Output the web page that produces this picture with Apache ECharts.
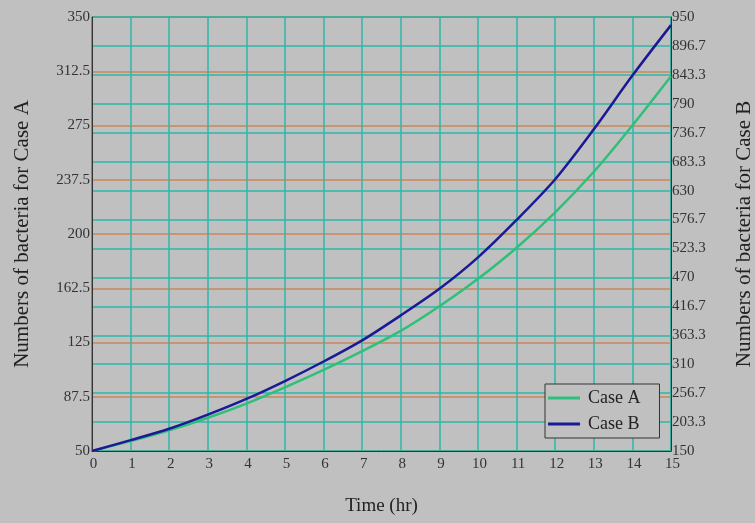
<!DOCTYPE html>
<html>
<head>
<meta charset="utf-8">
<script src="https://cdn.jsdelivr.net/npm/echarts@6/dist/echarts.min.js"></script>
<style>
html,body{margin:0;padding:0;background:#c0c0c0;}
#c{width:755px;height:523px;}
</style>
</head>
<body>
<div id="c"></div>
<script>
// Time (hr)
var hours = [0,1,2,3,4,5,6,7,8,9,10,11,12,13,14,15];
// Case A (left axis)
var caseA = [50, 56.8, 64.3, 73, 82.8, 94, 106, 119, 133, 150, 169, 190.5, 215, 243, 275, 309];
// Case B (right axis)
var caseB = [150, 170, 191, 217, 246, 279, 315, 354, 400, 449, 507, 576, 651, 743, 842, 935];
var leftTicks = [50, 87.5, 125, 162.5, 200, 237.5, 275, 312.5, 350];
var rightTicks = [150, 203.3, 256.7, 310, 363.3, 416.7, 470, 523.3, 576.7, 630, 683.3, 736.7, 790, 843.3, 896.7, 950];

var serif = "'Liberation Serif','DejaVu Serif',serif";
var teal = '#2bb8a8';
var orange = '#c9875a';

function pairs(xs, ys){ return xs.map(function(x,i){ return [x, ys[i]]; }); }

var chart = echarts.init(document.getElementById('c'));
chart.setOption({
  backgroundColor: '#c0c0c0',
  animation: false,
  grid: {left: 92, right: 84, top: 17, bottom: 72, show: true, borderColor: '#333', borderWidth: 1,
         backgroundColor: 'transparent', containLabel: false, outerBoundsMode: 'none'},
  legend: {
    left: 545, top: 384, orient: 'vertical',
    icon: 'rect', itemWidth: 32, itemHeight: 3, itemGap: 8,
    padding: [5, 19, 5, 3],
    borderColor: '#333', borderWidth: 1, borderRadius: 0,
    backgroundColor: '#c0c0c0',
    textStyle: {fontFamily: serif, fontSize: 18, color: '#222', padding: [0, 0, 0, 3]},
    data: ['Case A', 'Case B']
  },
  xAxis: {
    type: 'value', min: 0, max: 15, interval: 1,
    name: 'Time (hr)', nameLocation: 'middle', nameGap: 46,
    nameTextStyle: {fontFamily: serif, fontSize: 19, color: '#222'},
    axisLine: {show: true, lineStyle: {color: '#333', width: 1}},
    axisTick: {show: false},
    axisLabel: {fontFamily: serif, fontSize: 15, color: '#333', margin: 6, padding: [0,0,0,3]},
    splitLine: {show: true, lineStyle: {color: teal, width: 1.5}}
  },
  yAxis: [{
    type: 'value', position: 'left', min: leftTicks[0], max: leftTicks[leftTicks.length-1],
    interval: leftTicks[1]-leftTicks[0],
    name: 'Numbers of bacteria for Case A', nameLocation: 'middle', nameGap: 59,
    nameTextStyle: {fontFamily: serif, fontSize: 21, color: '#222'},
    axisLine: {show: true, lineStyle: {color: '#333', width: 1}},
    axisTick: {show: false},
    axisLabel: {fontFamily: serif, fontSize: 15, color: '#333', margin: 2},
    splitLine: {show: true, lineStyle: {color: orange, width: 1.5}}
  }, {
    type: 'value', position: 'right', min: rightTicks[0], max: rightTicks[rightTicks.length-1],
    interval: (rightTicks[rightTicks.length-1]-rightTicks[0])/(rightTicks.length-1),
    name: 'Numbers of bacteria for Case B', nameLocation: 'middle', nameGap: 63,
    nameTextStyle: {fontFamily: serif, fontSize: 21, color: '#222'},
    axisLine: {show: true, lineStyle: {color: '#333', width: 1}},
    axisTick: {show: false},
    axisLabel: {fontFamily: serif, fontSize: 15, color: '#333', margin: 1,
      formatter: function(v){ return String(Math.round(v*10)/10); }},
    splitLine: {show: true, lineStyle: {color: teal, width: 1.5}}
  }],
  series: [{
    name: 'Case A', type: 'line', yAxisIndex: 0, smooth: 0.3, symbol: 'none',
    data: pairs(hours, caseA),
    lineStyle: {color: '#2ec07a', width: 2.5}, itemStyle: {color: '#2ec07a'}
  }, {
    name: 'Case B', type: 'line', yAxisIndex: 1, smooth: 0.3, symbol: 'none',
    data: pairs(hours, caseB),
    lineStyle: {color: '#1a1a96', width: 2.5}, itemStyle: {color: '#1a1a96'}
  }]
});
</script>
</body>
</html>
